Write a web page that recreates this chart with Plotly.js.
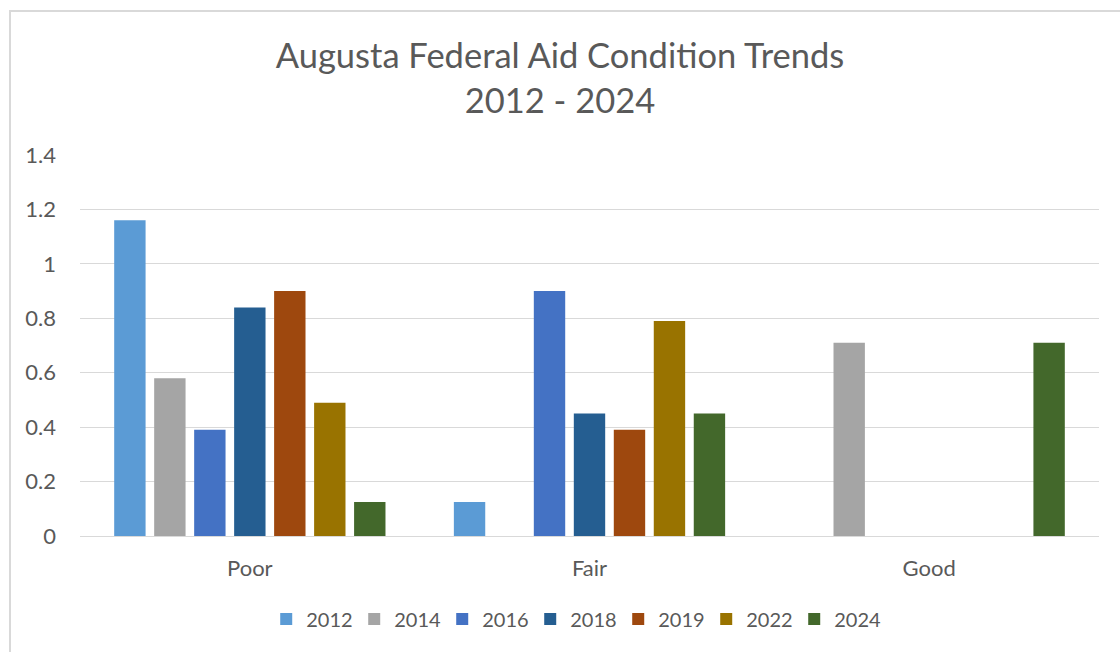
<!DOCTYPE html>
<html>
<head>
<meta charset="utf-8">
<script src="https://cdn.plot.ly/plotly-3.0.1.min.js"></script>
<style>
  html, body { margin: 0; padding: 0; background: #fff; }
  #wrap { position: relative; width: 1120px; height: 652px; overflow: hidden; }
  #frame { position: absolute; left: 9px; top: 10px; width: 1200px; height: 700px;
           border-top: 2px solid #d9d9d9; border-left: 2px solid #d9d9d9; pointer-events: none; }
  #chart { position: absolute; left: 0; top: 0; width: 1120px; height: 652px; }
</style>
</head>
<body>
<div id="wrap">
  <div id="chart"></div>
  <div id="frame"></div>
</div>
<script>
const categories = ["Poor", "Fair", "Good"];
const seriesNames = ["2012", "2014", "2016", "2018", "2019", "2022", "2024"];
const v2012 = [1.16, 0.125, 0];
const v2014 = [0.58, 0, 0.71];
const v2016 = [0.39, 0.90, 0];
const v2018 = [0.84, 0.45, 0];
const v2019 = [0.90, 0.39, 0];
const v2022 = [0.49, 0.79, 0];
const v2024 = [0.125, 0.45, 0.71];
const seriesValues = [v2012, v2014, v2016, v2018, v2019, v2022, v2024];
const seriesColors = ["#5B9BD5", "#A5A5A5", "#4472C4", "#255E91", "#9E480E", "#997300", "#43682B"];
const yTicks = [0, 0.2, 0.4, 0.6, 0.8, 1, 1.2, 1.4];
const yTickText = ["0", "0.2", "0.4", "0.6", "0.8", "1", "1.2", "1.4"];

const font = "Lato, Carlito, Calibri, 'Open Sans', sans-serif";
const textColor = "#595959";

const traces = seriesNames.map((name, i) => ({
  type: "bar",
  name: name,
  x: categories,
  y: seriesValues[i],
  marker: { color: seriesColors[i], line: { width: 0 } },
  hoverinfo: "x+y+name"
}));

const layout = {
  width: 1120,
  height: 652,
  paper_bgcolor: "#ffffff",
  plot_bgcolor: "#ffffff",
  margin: { l: 80, r: 21, t: 155, b: 116, pad: 0 },
  font: { family: font, color: textColor, size: 20 },
  title: {
    text: "Augusta Federal Aid Condition Trends<br>2012 - 2024",
    font: { family: font, size: 34.5, color: textColor },
    x: 0.5,
    xanchor: "center",
    y: 0.896,
    yanchor: "middle"
  },
  barmode: "group",
  bargap: 0.176,
  bargroupgap: 0.215,
  xaxis: {
    type: "category",
    showgrid: false,
    showline: false,
    zeroline: false,
    ticks: "",
    ticklabelstandoff: 17,
    tickfont: { family: font, size: 22, color: textColor }
  },
  yaxis: {
    range: [0, 1.4],
    tickmode: "array",
    tickvals: yTicks,
    ticktext: yTickText,
    showgrid: true,
    gridcolor: "#d9d9d9",
    gridwidth: 1.4,
    zeroline: true,
    zerolinecolor: "#d9d9d9",
    zerolinewidth: 1.4,
    showline: false,
    ticks: "",
    ticklabelstandoff: 23,
    tickfont: { family: font, size: 22, color: textColor }
  },
  showlegend: true,
  legend: {
    orientation: "h",
    x: 0.485,
    xanchor: "center",
    y: -0.218,
    yanchor: "middle",
    font: { family: font, size: 20, color: textColor },
    traceorder: "normal",
    itemwidth: 30,
    entrywidth: 43,
    entrywidthmode: "pixels",
    bgcolor: "rgba(0,0,0,0)"
  }
};

Plotly.newPlot("chart", traces, layout, { displayModeBar: false });
</script>
</body>
</html>
